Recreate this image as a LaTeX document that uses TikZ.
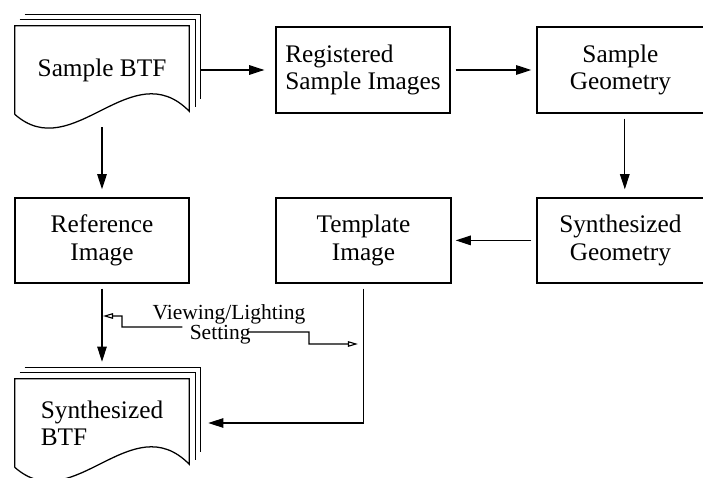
\documentclass[tikz,border=0pt]{standalone}
\usepackage{fontspec}
\setmainfont{Liberation Serif}
\usepackage{tikz}
\usetikzlibrary{arrows.meta,calc}

% stacked pages drawn round a doc node
\newcommand{\docstack}[1]{%
 \draw[line width=.9pt] (#1.south west)--(#1.north west)--(#1.north east)--([yshift=.075cm]#1.south east)
  .. controls ([xshift=-1.45cm,yshift=1.55cm]#1.south east) and ([xshift=1.45cm,yshift=-1.29cm]#1.south west) .. (#1.south west);
 \draw[line width=.9pt] ([xshift=.125cm,yshift=.15cm]#1.north west)-|([xshift=.15cm,yshift=.175cm]#1.south east);
 \draw[line width=.9pt] ([xshift=.25cm,yshift=.275cm]#1.north west)-|([xshift=.275cm,yshift=.375cm]#1.south east);}

\begin{document}
\begin{tikzpicture}[x=1cm,y=1cm,
 box/.style={draw,line width=.9pt,align=center,minimum width=4.35cm,minimum height=2.15cm,font=\fontsize{18}{19.5}\selectfont},
 doc/.style={align=center,minimum width=4.35cm,minimum height=2.2cm,font=\fontsize{18}{19.5}\selectfont},
 lab/.style={align=left,inner sep=0pt,font=\fontsize{15.3}{12.5}\selectfont},
 arr/.style={-{Triangle[length=.38cm,width=.24cm]},line width=.8pt},
 oarr/.style={-{Triangle[open,length=.25cm,width=.14cm]},line width=.8pt}]
\useasboundingbox (0,0) rectangle (17.575,11.95);
\node[doc] (sbtf) at (2.55,10.2) {Sample BTF};
\node[box,align=left] (reg) at (9.075,10.2) {Registered\\Sample Images};
\node[box,minimum width=4.175cm] (sgeo) at (15.51,10.2) {Sample\\Geometry};
\node[box,minimum width=4.175cm,minimum height=2.125cm] (syngeo) at (15.51,5.94) {Synthesized\\Geometry};
\node[box,minimum width=4.375cm,minimum height=2.125cm] (tmpl) at (9.0875,5.94) {Template\\Image};
\node[box,minimum height=2.125cm] (ref) at (2.55,5.94) {Reference\\Image};
\node[doc,align=left] (synbtf) at (2.55,1.375) {Synthesized\\BTF};
\docstack{sbtf}\docstack{synbtf}
\node[lab] (vl) at (5.725,3.84) {Viewing/Lighting\\\hspace*{.93cm}Setting};
\draw[arr,shorten <=.27cm,shorten >=.275cm] (sbtf.east)--(reg.west);
\draw[arr,shorten <=.125cm,shorten >=.125cm] (reg)--(sgeo);
\draw[arr,shorten <=.125cm,shorten >=.2cm] ([xshift=.11cm]sgeo.south)--([xshift=.11cm]syngeo.north);
\draw[arr,shorten <=.125cm,shorten >=.1cm] (syngeo)--(tmpl);
\draw[arr,shorten <=.325cm,shorten >=.2cm] (sbtf.south)--(ref.north);
\draw[arr,shorten <=.125cm,shorten >=.425cm] (ref.south)--(synbtf.north);
\draw[arr,shorten <=.125cm,shorten >=.475cm] (tmpl.south)|-(synbtf.east);
\coordinate (vlL) at ([xshift=.025cm]ref.south |- 0,4.05);
\coordinate (vlR) at ([xshift=-.14cm]tmpl.south |- 0,3.35);
\draw[oarr] ($(vl.west)+(.75,-.065)$)--(3.05,3.775)--(3.05,4.05)--(vlL);
\draw[oarr] ($(vl.center)+(.475,-.19)$)--(7.725,3.65)--(7.725,3.35)--(vlR);
\end{tikzpicture}
\end{document}
